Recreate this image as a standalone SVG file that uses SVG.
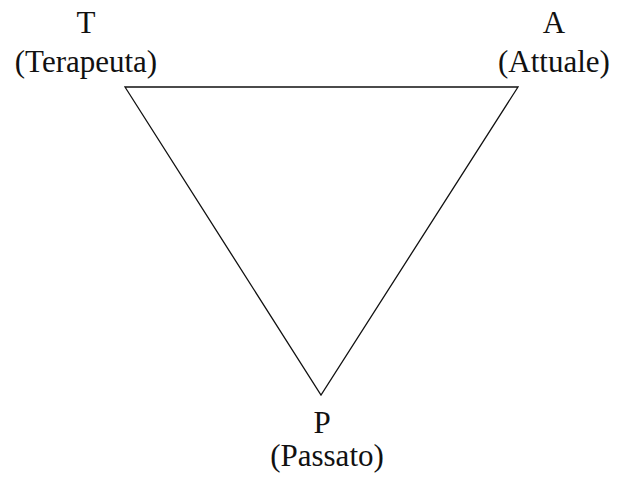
<svg xmlns="http://www.w3.org/2000/svg" width="625" height="477" viewBox="0 0 625 477">
<style>
.lbl{font-family:"Liberation Serif","Times New Roman",serif;font-size:31px;fill:#111;text-anchor:middle}
.edge{stroke:#111;stroke-width:1.3;fill:none}
</style>
<rect width="625" height="477" fill="#fff"/>
<g id="connectors">
<path class="edge" d="M125,87 L518,87 L321,395 Z"/>
</g>
<g id="T"><text class="lbl" x="86" y="33">T</text><text class="lbl" x="86" y="72">(Terapeuta)</text></g>
<g id="A"><text class="lbl" x="554" y="33">A</text><text class="lbl" x="554" y="72">(Attuale)</text></g>
<g id="P"><text class="lbl" x="322" y="433">P</text><text class="lbl" x="327" y="466">(Passato)</text></g>
</svg>
